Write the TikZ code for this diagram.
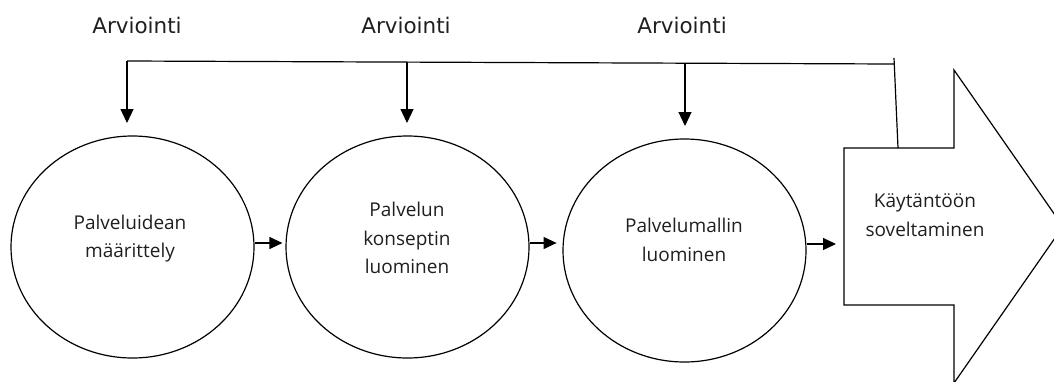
\documentclass[tikz,border=0pt]{standalone}
\usepackage{fontspec}
\setmainfont{Open Sans}
\newfontfamily\topfont{DejaVu Sans}
\usetikzlibrary{arrows.meta,shapes.geometric}
\begin{document}
\begin{tikzpicture}[x=1pt,y=-1pt,
  line width=1.2pt,
  stage/.style={draw,ellipse,inner sep=0pt},
  stagetext/.style={font=\fontsize{19}{28.5}\selectfont,align=center,text=black!88},
  evaltext/.style={font=\topfont\fontsize{21.5}{24}\selectfont,text=black!88},
  flow/.style={-{Triangle[length=13pt,width=12pt]}},
  drop/.style={-{Triangle[length=14pt,width=13pt]}}]
\useasboundingbox (0,0) rectangle (1054,381);
% stages
\node[stage,minimum width=243pt,minimum height=222pt] (e1) at (132.5,247) {};
\node[stage,minimum width=243pt,minimum height=222pt] (e2) at (407.5,247) {};
\node[stage,minimum width=243pt,minimum height=223pt] (e3) at (684.5,250.5) {};
\node[stagetext] (t1) at (130,238.5) {Palveluidean\\määrittely};
\node[stagetext] (t2) at (407,238) {Palvelun\\konseptin\\luominen};
\node[stagetext] (t3) at (684,240) {Palvelumallin\\luominen};
% big arrow
\draw (844,148) -- (954,148) -- (954,70) -- (1063,226.5) -- (954,383) -- (954,305) -- (844,305) -- cycle;
\coordinate (arrowleft) at (844,244);
\node[stagetext] (t4) at (925,215) {Käytäntöön\\soveltaminen};
% flow connectors
\draw[flow,shorten >=3pt] ([yshift=4pt]e1.east) -- ([yshift=4pt]e2.west);
\draw[flow] ([yshift=4pt]e2.east) -- ([xshift=27pt,yshift=4pt]e2.east);
\draw[flow,shorten >=8pt] ([yshift=6.5pt]e3.east) -- (arrowleft);
% evaluation line
\coordinate (f1) at (127,61);
\coordinate (f2) at (407,62.2);
\coordinate (f3) at (685,63.3);
\coordinate (f4) at (894,64);
\coordinate (ftop) at (894,58);
\coordinate (fbot) at (898,148);
\draw (f1) -- (f4);
\draw (ftop) -- (fbot);
\draw[drop] (f1) -- (127,123);
\draw[drop] (f2) -- (407,123);
\draw[drop] (f3) -- (685,126);
% labels
\node[evaltext] (a1) at (137,25) {Arviointi};
\node[evaltext] (a2) at (406,25) {Arviointi};
\node[evaltext] (a3) at (682,25) {Arviointi};
\end{tikzpicture}
\end{document}
